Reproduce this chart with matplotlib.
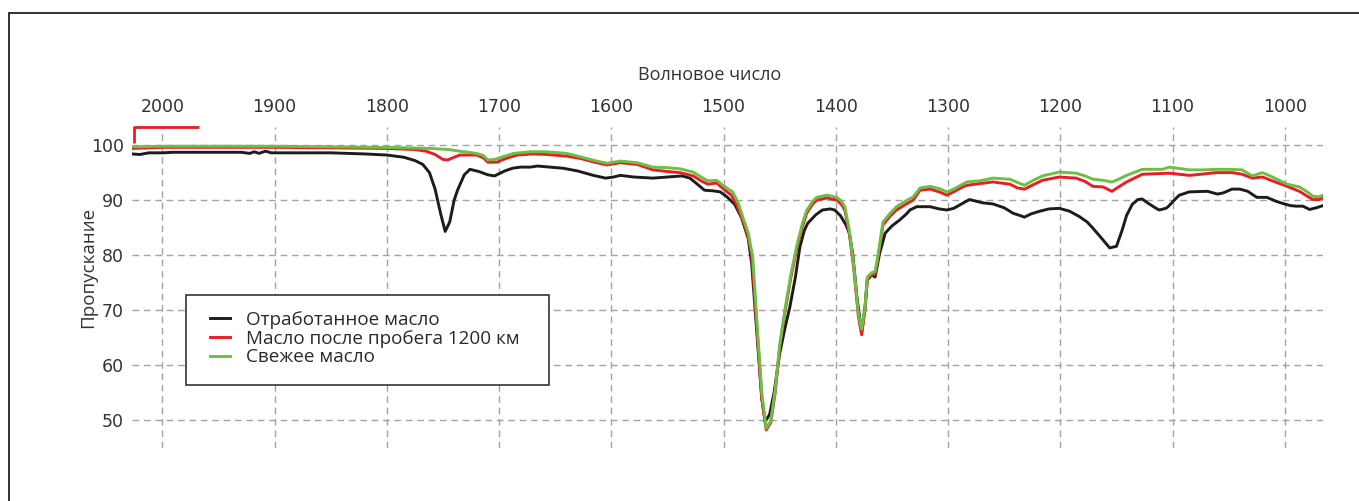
import matplotlib
matplotlib.use("Agg")
import matplotlib.pyplot as plt
from matplotlib.patches import Rectangle

# ---- data ----
used_wn = [2027, 2020, 2012, 2000, 1990, 1960, 1930, 1922, 1918, 1914, 1908, 1903, 1880, 1850, 1820, 1800,
           1785, 1775, 1768, 1762, 1757, 1752, 1748, 1744, 1740, 1737, 1731, 1726, 1718, 1710, 1704, 1695,
           1688, 1681, 1672, 1666, 1655, 1643, 1630, 1616, 1605, 1598, 1592, 1580, 1563, 1550, 1537, 1530,
           1524, 1517, 1510, 1503, 1497, 1490, 1484, 1478, 1475, 1470, 1466, 1463, 1459, 1455, 1450, 1445,
           1441, 1436, 1432, 1428, 1425, 1418, 1412, 1405, 1401, 1396, 1391, 1388, 1385, 1381, 1377, 1374,
           1372, 1368, 1365, 1361, 1356, 1350, 1343, 1337, 1334, 1328, 1316, 1308, 1301, 1295, 1288, 1281,
           1269, 1260, 1250, 1242, 1236, 1232, 1226, 1218, 1210, 1201, 1192, 1183, 1176, 1171, 1163, 1156,
           1150, 1145, 1141, 1136, 1131, 1127, 1123, 1117, 1112, 1106, 1104, 1098, 1094, 1085, 1069, 1060,
           1055, 1047, 1040, 1033, 1025, 1016, 1008, 1002, 995, 990, 984, 978, 972, 966]
used_t = [98.4, 98.3, 98.6, 98.6, 98.7, 98.7, 98.7, 98.5, 98.8, 98.5, 98.9, 98.6, 98.6, 98.6, 98.4, 98.2,
          97.8, 97.2, 96.5, 95.0, 92.0, 87.5, 84.3, 86.0, 90.0, 91.8, 94.6, 95.6, 95.2, 94.6, 94.4, 95.3,
          95.8, 96.0, 96.0, 96.2, 96.0, 95.8, 95.3, 94.5, 94.0, 94.2, 94.5, 94.2, 94.0, 94.2, 94.4, 94.0,
          93.0, 91.8, 91.7, 91.5, 90.6, 89.2, 86.8, 83.0, 78.5, 65.0, 54.0, 49.7, 51.0, 55.0, 62.1, 67.0,
          70.5, 76.0, 81.5, 84.5, 85.8, 87.3, 88.2, 88.4, 88.2, 87.2, 85.5, 84.0, 80.3, 72.0, 66.0, 70.5,
          75.5, 76.4, 76.0, 80.3, 84.0, 85.3, 86.4, 87.5, 88.2, 88.8, 88.8, 88.4, 88.2, 88.5, 89.3, 90.1,
          89.5, 89.3, 88.6, 87.6, 87.2, 86.9, 87.5, 88.0, 88.4, 88.5, 88.0, 87.0, 86.0, 84.9, 83.0, 81.3,
          81.6, 84.5, 87.2, 89.2, 90.1, 90.2, 89.6, 88.8, 88.2, 88.5, 88.8, 90.1, 90.9, 91.5, 91.6, 91.1,
          91.3, 92.0, 92.0, 91.6, 90.5, 90.5, 89.8, 89.4, 89.0, 88.9, 88.9, 88.3, 88.6, 89.0]

run_wn = [2027, 2000, 1950, 1900, 1850, 1800, 1775, 1765, 1757, 1750, 1746, 1740, 1735, 1720, 1714, 1710,
          1702, 1695, 1684, 1670, 1657, 1640, 1628, 1615, 1604, 1592, 1577, 1563, 1550, 1539, 1527, 1520,
          1514, 1506, 1500, 1493, 1488, 1483, 1479, 1475, 1470, 1466, 1462, 1458, 1454, 1450, 1445, 1440,
          1435, 1430, 1426, 1421, 1417, 1408, 1399, 1395, 1392, 1388, 1384, 1380, 1377, 1374, 1372, 1368,
          1365, 1362, 1358, 1352, 1346, 1338, 1331, 1325, 1316, 1308, 1301, 1295, 1287, 1283, 1272, 1260,
          1245, 1238, 1232, 1224, 1216, 1201, 1186, 1178, 1171, 1162, 1154, 1148, 1141, 1127, 1115, 1103,
          1085, 1075, 1061, 1047, 1038, 1029, 1020, 1011, 998, 987, 980, 975, 970, 966]
run_t = [99.4, 99.6, 99.6, 99.6, 99.5, 99.4, 99.2, 98.9, 98.3, 97.4, 97.3, 97.8, 98.2, 98.2, 97.7, 96.9,
         96.9, 97.5, 98.2, 98.4, 98.3, 98.0, 97.6, 96.9, 96.4, 96.8, 96.5, 95.5, 95.2, 95.0, 94.4, 93.5,
         92.9, 93.1, 92.0, 90.9, 89.0, 86.4, 84.0, 80.3, 66.0, 54.0, 48.2, 49.5, 55.0, 63.3, 70.0, 76.0,
         80.9, 85.0, 87.6, 89.2, 90.0, 90.4, 90.0, 89.2, 88.2, 84.0, 77.5, 69.0, 65.5, 70.0, 75.5, 76.4,
         76.5, 80.0, 85.5, 87.0, 88.2, 89.2, 90.0, 91.8, 92.0, 91.5, 90.9, 91.5, 92.4, 92.7, 93.0, 93.3,
         92.9, 92.2, 92.0, 92.8, 93.6, 94.2, 94.0, 93.4, 92.5, 92.4, 91.6, 92.4, 93.3, 94.7, 94.8, 94.9,
         94.5, 94.7, 95.0, 95.0, 94.7, 94.0, 94.2, 93.5, 92.5, 91.6, 90.7, 90.1, 90.1, 90.4]

fresh_wn = [2027, 2000, 1950, 1900, 1850, 1806, 1780, 1761, 1745, 1735, 1720, 1714, 1710, 1704, 1695, 1687,
            1672, 1660, 1652, 1640, 1628, 1615, 1604, 1592, 1577, 1563, 1550, 1539, 1527, 1520, 1514, 1506,
            1500, 1492, 1487, 1483, 1478, 1474, 1470, 1466, 1462, 1458, 1454, 1450, 1445, 1440, 1435, 1430,
            1426, 1421, 1417, 1408, 1399, 1395, 1392, 1388, 1384, 1380, 1377, 1374, 1372, 1368, 1365, 1362,
            1358, 1352, 1346, 1338, 1331, 1325, 1316, 1308, 1301, 1295, 1287, 1283, 1272, 1260, 1245, 1238,
            1232, 1224, 1216, 1201, 1186, 1178, 1171, 1162, 1154, 1148, 1141, 1127, 1109, 1103, 1085, 1072,
            1061, 1050, 1038, 1029, 1020, 1011, 998, 987, 980, 975, 970, 966]
fresh_t = [99.7, 99.8, 99.8, 99.8, 99.7, 99.6, 99.5, 99.4, 99.2, 98.9, 98.5, 98.1, 97.3, 97.4, 98.0, 98.5,
           98.8, 98.8, 98.7, 98.5, 97.9, 97.2, 96.7, 97.1, 96.8, 96.0, 95.9, 95.7, 95.1, 94.2, 93.5, 93.6,
           92.6, 91.5, 89.5, 87.0, 84.0, 79.6, 67.0, 55.0, 48.5, 49.8, 55.5, 63.6, 70.5, 76.5, 81.5, 85.6,
           88.1, 89.7, 90.5, 90.9, 90.5, 89.8, 88.8, 84.5, 78.0, 69.5, 66.5, 70.5, 76.0, 76.8, 77.0, 80.5,
           86.0, 87.5, 88.8, 89.8, 90.6, 92.2, 92.5, 92.1, 91.5, 92.0, 92.9, 93.3, 93.5, 94.0, 93.8, 93.2,
           92.7, 93.6, 94.4, 95.1, 94.9, 94.4, 93.8, 93.6, 93.3, 93.8, 94.5, 95.6, 95.6, 96.0, 95.5, 95.5,
           95.6, 95.6, 95.5, 94.4, 95.0, 94.2, 92.9, 92.4, 91.5, 90.7, 90.6, 90.9]

series_labels = ["Отработанное масло", "Масло после пробега 1200 км", "Свежее масло"]
x_ticks = [2000, 1900, 1800, 1700, 1600, 1500, 1400, 1300, 1200, 1100, 1000]
y_ticks = [50, 60, 70, 80, 90, 100]
x_label = "Волновое число"
y_label = "Пропускание"

# ---- figure ----
W, H = 1359, 501
fig = plt.figure(figsize=(W / 100, H / 100), dpi=100)
fig.patch.set_facecolor("white")

# figure frame (top/left visible)
fig.patches.append(Rectangle((9 / W, -0.2), 1.5, 1.2 - 13 / H, transform=fig.transFigure,
                             fill=False, edgecolor="#222222", linewidth=1.3, zorder=0))

ax_l, ax_r, ax_t, ax_b = 132, 1323, 127, 448
ax = fig.add_axes([ax_l / W, 1 - ax_b / H, (ax_r - ax_l) / W, (ax_b - ax_t) / H])

c_black, c_red, c_green = "#1c1c1c", "#ec1c24", "#6dbf43"
ax.plot(used_wn, used_t, color=c_black, lw=2.1, label=series_labels[0], solid_joinstyle="round", zorder=3)
ax.plot(run_wn, run_t, color=c_red, lw=2.1, label=series_labels[1], solid_joinstyle="round", zorder=4)
ax.plot(fresh_wn, fresh_t, color=c_green, lw=2.1, label=series_labels[2], solid_joinstyle="round", zorder=5)

ax.set_xlim(2027, 966)
ax.set_ylim(44.9, 103.3)
ax.set_xticks(x_ticks)
ax.set_yticks(y_ticks)
ax.xaxis.tick_top()
ax.xaxis.set_label_position("top")
for s in ax.spines.values():
    s.set_visible(False)
ax.tick_params(axis="both", length=0, labelcolor="#333333", labelsize=12.5)
ax.tick_params(axis="x", pad=8)
ax.tick_params(axis="y", pad=6)
for lab in ax.get_xticklabels() + ax.get_yticklabels():
    lab.set_fontfamily("DejaVu Sans")
ax.grid(True, color="#a3a3a3", linestyle=(0, (4.8, 3.4)), linewidth=1.0, zorder=1)
ax.set_axisbelow(True)

ax.set_xlabel(x_label, fontsize=13, color="#333333", fontfamily="Open Sans")
ax.xaxis.set_label_coords((709.5 - ax_l) / (ax_r - ax_l), 1 + (ax_t - 75) / (ax_b - ax_t))
ax.xaxis.label.set_va("center")
ax.set_ylabel(y_label, fontsize=13.5, color="#333333", fontfamily="Open Sans")
ax.yaxis.set_label_coords((88 - ax_l) / (ax_r - ax_l), (ax_b - 267) / (ax_b - ax_t))
ax.yaxis.label.set_va("center")

# red bracket mark at top-left
ax.plot([2024.9, 2024.9, 1967], [100.4, 103.3, 103.3], color=c_red, lw=2.0, clip_on=False,
        solid_capstyle="butt", zorder=6)

# legend frame drawn as a separate box, legend content on top of it
ax.add_patch(Rectangle((186 / W, 1 - 385 / H), (549 - 186) / W, (385 - 295) / H,
                       transform=fig.transFigure, facecolor="white", edgecolor="#333333",
                       linewidth=1.2, zorder=6, clip_on=False))
leg = ax.legend(loc="upper left",
                bbox_to_anchor=((210 - ax_l) / (ax_r - ax_l), (ax_b - 311) / (ax_b - ax_t)),
                prop={"family": "Open Sans", "size": 13.6}, frameon=False,
                borderpad=0, handlelength=1.07, handletextpad=0.85, labelspacing=0.03,
                borderaxespad=0)
leg.set_zorder(8)
for t in leg.get_texts():
    t.set_color("#2a2a2a")

fig.savefig("out.png", dpi=100)
